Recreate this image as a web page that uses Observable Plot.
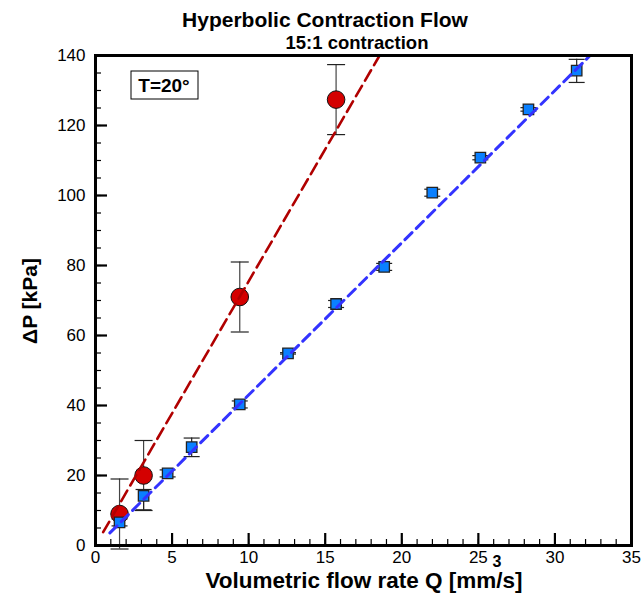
<!DOCTYPE html>
<html><head><meta charset="utf-8">
<script src="https://cdn.jsdelivr.net/npm/d3@7"></script>
<script src="https://cdn.jsdelivr.net/npm/@observablehq/plot@0.6"></script>
<style>
body{margin:0;background:#fff}
#chart svg{font-family:"Liberation Sans",Arial,Helvetica,sans-serif;background:#fff}
</style>
</head><body><div id="chart"></div>
<script>
// ---- data ----
const redQ = [1.57, 3.14, 9.42, 15.71];
const redP = [9.0, 20.0, 71.0, 127.4];
const redLo = [10, 10, 10, 10];
const redHi = [10, 10, 10, 10];

const blueQ = [1.57, 3.14, 4.71, 6.28, 9.42, 12.57, 15.71, 18.85, 21.99, 25.13, 28.27, 31.42];
const blueP = [6.6, 14.2, 20.6, 28.1, 40.3, 54.9, 69.0, 79.6, 100.8, 110.8, 124.6, 135.7];
const blueLo = [1.0, 4.0, 1.0, 2.7, 1.0, 0.2, 1.0, 1.0, 1.0, 0.6, 0.5, 3.4];
const blueHi = [1.0, 1.8, 1.0, 2.6, 1.0, 0.2, 1.0, 1.0, 1.0, 0.6, 0.5, 3.2];

const redFitQ = [0.5, 18.55];
const redFitP = [3.8, 140];
const blueFitQ = [0.94, 32.3];
const blueFitP = [3.6, 140];

const xTicks = [0, 5, 10, 15, 20, 25, 30, 35];
const yTicks = [0, 20, 40, 60, 80, 100, 120, 140];
const xMinor = d3.range(0, 36, 1);
const yMinor = d3.range(0, 141, 5);

const titleText = "Hyperbolic Contraction Flow";
const subtitleText = "15:1 contraction";
const xLabel = "Volumetric flow rate Q [mm/s]";
const yLabel = "ΔP [kPa]";
const legendText = "T=20°";

// ---- tables ----
const red = redQ.map((q, i) => ({q, p: redP[i], lo: redP[i] - redLo[i], hi: redP[i] + redHi[i]}));
const blue = blueQ.map((q, i) => ({q, p: blueP[i], lo: blueP[i] - blueLo[i], hi: blueP[i] + blueHi[i]}));
const redFit = redFitQ.map((q, i) => ({q, p: redFitP[i]}));
const blueFit = blueFitQ.map((q, i) => ({q, p: blueFitP[i]}));

const capSymbol = {draw(ctx, size) { const r = Math.sqrt(size / Math.PI); ctx.moveTo(-r, 0); ctx.lineTo(r, 0); }};
const noLabel = () => "";

const W = 643, H = 598, mL = 95, mR = 12, mT = 55, mB = 53;

const plot = Plot.plot({
  width: W, height: H,
  marginLeft: mL, marginRight: mR, marginTop: mT, marginBottom: mB,
  x: {domain: [0, 35]},
  y: {domain: [0, 140]},
  style: {fontFamily: '"Liberation Sans", Arial, sans-serif', background: "#fff"},
  marks: [
    // minor + major inward ticks
    Plot.axisX(xMinor, {tickSize: -6, tickFormat: noLabel, stroke: "#000", strokeWidth: 1.2, label: null}),
    Plot.axisX(xTicks, {tickSize: -12, tickFormat: noLabel, stroke: "#000", strokeWidth: 2.2, label: null}),
    Plot.axisX(xTicks, {tickSize: 0, tickPadding: 5, fontSize: 17, label: null, fill: "#000"}),
    Plot.axisY(yMinor, {tickSize: -6, tickFormat: noLabel, stroke: "#000", strokeWidth: 1.2, label: null}),
    Plot.axisY(yTicks, {tickSize: -12, tickFormat: noLabel, stroke: "#000", strokeWidth: 2.2, label: null}),
    Plot.axisY(yTicks, {tickSize: 0, tickPadding: 10, fontSize: 17, label: null, fill: "#000"}),
    // red error bars
    Plot.ruleX(red, {x: "q", y1: "lo", y2: "hi", stroke: "#444", strokeWidth: 1.2}),
    Plot.dot(red, {x: "q", y: "hi", symbol: capSymbol, r: 9, stroke: "#222", strokeWidth: 1.2, fill: "none"}),
    Plot.dot(red, {x: "q", y: "lo", symbol: capSymbol, r: 9, stroke: "#222", strokeWidth: 1.2, fill: "none"}),
    // blue error bars
    Plot.ruleX(blue, {x: "q", y1: "lo", y2: "hi", stroke: "#222", strokeWidth: 1.2}),
    Plot.dot(blue, {x: "q", y: "hi", symbol: capSymbol, r: 8, stroke: "#222", strokeWidth: 1.2, fill: "none"}),
    Plot.dot(blue, {x: "q", y: "lo", symbol: capSymbol, r: 8, stroke: "#222", strokeWidth: 1.2, fill: "none"}),
    // markers
    Plot.dot(red, {x: "q", y: "p", r: 8.8, fill: "#d40000", stroke: "#111", strokeWidth: 1}),
    Plot.dot(blue, {x: "q", y: "p", symbol: "square", r: 5.9, fill: "#0a80ff", stroke: "#222", strokeWidth: 1.3}),
    // fit lines
    Plot.line(redFit, {x: "q", y: "p", stroke: "#b00000", strokeWidth: 2.6, strokeDasharray: "12,6"}),
    Plot.line(blueFit, {x: "q", y: "p", stroke: "#3333ff", strokeWidth: 3, strokeDasharray: "10,6"}),
    Plot.frame({stroke: "#000", strokeWidth: 3}),
  ]
});

const svg = d3.select(plot);
const txt = (x, y, s, size, weight = "bold", anchor = "middle") =>
  svg.append("text").attr("x", x).attr("y", y).attr("text-anchor", anchor)
    .attr("font-size", size).attr("font-weight", weight).attr("fill", "#000")
    .attr("font-family", '"Liberation Sans", Arial, sans-serif').text(s);

txt(325, 27, titleText, 21);
txt(357, 49, subtitleText, 18.5);
txt(364, 588, xLabel, 22.5);
txt(497, 567, "3", 16);
txt(0, 0, yLabel, 21).attr("transform", "translate(37,301) rotate(-90)");
svg.append("rect").attr("x", 131).attr("y", 71).attr("width", 67).attr("height", 28)
  .attr("fill", "#fff").attr("stroke", "#000").attr("stroke-width", 1);
txt(164, 92, legendText, 19);

document.getElementById("chart").appendChild(plot);
</script>
</body></html>
